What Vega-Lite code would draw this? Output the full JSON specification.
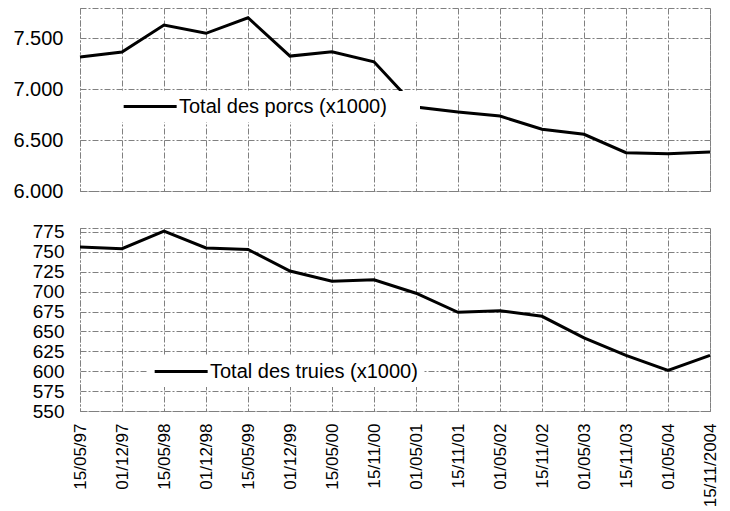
{
  "$schema": "https://vega.github.io/schema/vega-lite/v6.json",
  "background": "white",
  "padding": {"left": 12, "top": 7, "right": 20, "bottom": 2},
  "bounds": "flush",
  "spacing": 37,
  "config": {
    "font": "Liberation Sans",
    "view": {"stroke": "#808080", "strokeDash": [6, 2, 2, 2], "strokeWidth": 1},
    "axis": {
      "gridColor": "#808080", "gridDash": [6, 2, 2, 2], "gridOpacity": 1, "gridWidth": 1,
      "domain": false, "ticks": false, "labelColor": "black", "labelFont": "Liberation Sans", "title": null
    },
    "legend": {
      "orient": "none", "title": null, "symbolType": "M-1,0H5", "symbolSize": 312,
      "symbolStrokeWidth": 3, "labelFontSize": 20, "labelFont": "Liberation Sans", "labelColor": "black",
      "labelOffset": 36, "labelLimit": 600, "padding": 5, "fillColor": "white", "strokeColor": null
    }
  },
  "resolve": {"scale": {"color": "independent", "y": "independent"}, "legend": {"color": "independent"}},
  "datasets": {
    "porcs": [
      {"date": "15/05/97", "value": 7318, "series": "Total des porcs (x1000)"},
      {"date": "01/12/97", "value": 7367, "series": "Total des porcs (x1000)"},
      {"date": "15/05/98", "value": 7632, "series": "Total des porcs (x1000)"},
      {"date": "01/12/98", "value": 7551, "series": "Total des porcs (x1000)"},
      {"date": "15/05/99", "value": 7704, "series": "Total des porcs (x1000)"},
      {"date": "01/12/99", "value": 7327, "series": "Total des porcs (x1000)"},
      {"date": "15/05/00", "value": 7370, "series": "Total des porcs (x1000)"},
      {"date": "15/11/00", "value": 7271, "series": "Total des porcs (x1000)"},
      {"date": "01/05/01", "value": 6826, "series": "Total des porcs (x1000)"},
      {"date": "15/11/01", "value": 6777, "series": "Total des porcs (x1000)"},
      {"date": "01/05/02", "value": 6737, "series": "Total des porcs (x1000)"},
      {"date": "15/11/02", "value": 6607, "series": "Total des porcs (x1000)"},
      {"date": "01/05/03", "value": 6558, "series": "Total des porcs (x1000)"},
      {"date": "15/11/03", "value": 6377, "series": "Total des porcs (x1000)"},
      {"date": "01/05/04", "value": 6367, "series": "Total des porcs (x1000)"},
      {"date": "15/11/2004", "value": 6383, "series": "Total des porcs (x1000)"}
    ],
    "truies": [
      {"date": "15/05/97", "value": 756, "series": "Total des truies (x1000)"},
      {"date": "01/12/97", "value": 754, "series": "Total des truies (x1000)"},
      {"date": "15/05/98", "value": 776, "series": "Total des truies (x1000)"},
      {"date": "01/12/98", "value": 755, "series": "Total des truies (x1000)"},
      {"date": "15/05/99", "value": 753, "series": "Total des truies (x1000)"},
      {"date": "01/12/99", "value": 726, "series": "Total des truies (x1000)"},
      {"date": "15/05/00", "value": 713, "series": "Total des truies (x1000)"},
      {"date": "15/11/00", "value": 715, "series": "Total des truies (x1000)"},
      {"date": "01/05/01", "value": 698, "series": "Total des truies (x1000)"},
      {"date": "15/11/01", "value": 674, "series": "Total des truies (x1000)"},
      {"date": "01/05/02", "value": 676, "series": "Total des truies (x1000)"},
      {"date": "15/11/02", "value": 669, "series": "Total des truies (x1000)"},
      {"date": "01/05/03", "value": 642, "series": "Total des truies (x1000)"},
      {"date": "15/11/03", "value": 620, "series": "Total des truies (x1000)"},
      {"date": "01/05/04", "value": 601, "series": "Total des truies (x1000)"},
      {"date": "15/11/2004", "value": 620, "series": "Total des truies (x1000)"}
    ]
  },
  "vconcat": [
    {
      "width": 630, "height": 183,
      "data": {"name": "porcs"},
      "mark": {"type": "line", "strokeWidth": 3},
      "encoding": {
        "x": {"field": "date", "type": "ordinal", "sort": null, "scale": {"type": "point", "padding": 0},
              "axis": {"labels": false, "grid": true}},
        "y": {"field": "value", "type": "quantitative", "scale": {"domain": [6000, 7800], "nice": false, "zero": false},
              "axis": {"values": [6000, 6500, 7000, 7500], "labelFontSize": 20, "labelPadding": 17,
                       "labelExpr": "replace(format(datum.value, ','), ',', '.')"}},
        "color": {"field": "series", "type": "nominal", "scale": {"range": ["black"]},
                  "legend": {"legendX": 37, "legendY": 83, "labelExpr": "datum.label + '\u00a0\u00a0\u00a0\u00a0\u00a0\u200b'"}}
      }
    },
    {
      "width": 630, "height": 183,
      "data": {"name": "truies"},
      "mark": {"type": "line", "strokeWidth": 3},
      "encoding": {
        "x": {"field": "date", "type": "ordinal", "sort": null, "scale": {"type": "point", "padding": 0},
              "axis": {"grid": true, "labelAngle": 270, "labelFontSize": 17, "labelPadding": 12}},
        "y": {"field": "value", "type": "quantitative", "scale": {"domain": [550, 780], "nice": false, "zero": false},
              "axis": {"values": [550, 575, 600, 625, 650, 675, 700, 725, 750, 775], "labelFontSize": 19, "labelPadding": 16}},
        "color": {"field": "series", "type": "nominal", "scale": {"range": ["black"]},
                  "legend": {"legendX": 68, "legendY": 128}}
      }
    }
  ]
}
